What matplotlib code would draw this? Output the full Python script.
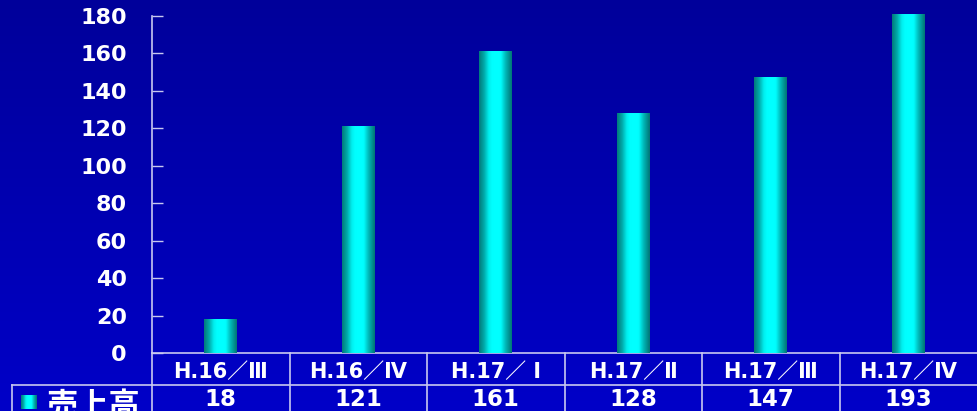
import numpy as np
import matplotlib
matplotlib.use("Agg")
import matplotlib.pyplot as plt
from matplotlib.colors import LinearSegmentedColormap, to_rgb
import matplotlib.transforms as mtransforms

categories = ["H.16／Ⅲ", "H.16／Ⅳ", "H.17／ Ⅰ", "H.17／Ⅱ", "H.17／Ⅲ", "H.17／Ⅳ"]
values = [18, 121, 161, 128, 147, 193]
series_name = "売上高"
yticks = [0, 20, 40, 60, 80, 100, 120, 140, 160, 180]

W, H = 977, 411
fig = plt.figure(figsize=(W / 100, H / 100), dpi=100)

# background gradient
bg = fig.add_axes([0, 0, 1, 1], zorder=-10)
top_c = np.array(to_rgb("#00009A"))
bot_c = np.array(to_rgb("#0000C8"))
t = np.linspace(0, 1, 256)[:, None]
grad = top_c[None, :] * (1 - t) + bot_c[None, :] * t
bg.imshow(grad[:, None, :].repeat(2, axis=1), aspect="auto", extent=[0, 1, 0, 1])
bg.axis("off")

ax_left = 152 / W
ax_bottom = (H - 353) / H
ax_top = (H - 14) / H
ax = fig.add_axes([ax_left, ax_bottom, 1 - ax_left, ax_top - ax_bottom])
ax.set_facecolor("none")

x = np.arange(len(categories))
bars = ax.bar(x, values, width=0.24, color="#00FFFF", linewidth=0, zorder=2)

cmap = LinearSegmentedColormap.from_list(
    "cyl",
    [(0.0, "#007A7A"), (0.15, "#00A8A8"), (0.30, "#00F0F0"), (0.40, "#00FFFF"),
     (0.66, "#00FFFF"), (0.82, "#00B4B4"), (1.0, "#007474")])
prof = np.linspace(0, 1, 128)[None, :]
for b in bars:
    x0, w, h = b.get_x(), b.get_width(), b.get_height()
    im = ax.imshow(prof, cmap=cmap, aspect="auto", extent=[x0, x0 + w, 0, h],
                   zorder=3, interpolation="bicubic")
    im.set_clip_path(b)
    im.set_clip_box(ax.bbox)

ax.set_xlim(-0.5, len(categories) - 0.5)
ax.set_ylim(0, 181)
line_c = "#C8C8F0"
for s in ["top", "right"]:
    ax.spines[s].set_visible(False)
ax.spines["left"].set_color(line_c)
ax.spines["bottom"].set_color(line_c)
ax.spines["left"].set_linewidth(1.2)
ax.spines["left"].set_bounds(0, 180)
ax.spines["bottom"].set_linewidth(1.2)
ax.set_yticks(yticks)
ax.set_yticklabels([str(v) for v in yticks])
ax.tick_params(axis="y", direction="in", length=8, width=1, color=line_c,
               pad=18, labelcolor="white", labelsize=16)
for lab in ax.get_yticklabels():
    lab.set_fontweight("bold")
    lab.set_family("DejaVu Sans")
ax.set_xticks([])

# table
trans = mtransforms.blended_transform_factory(ax.transData, ax.transAxes)
axh_px = 353 - 14
hdr = -32 / axh_px
bot = -70 / axh_px
label_left = (12 - 152) / 825
kw = dict(color=line_c, lw=1.2, clip_on=False, zorder=5)
for i in range(len(categories)):
    xb = i - 0.5
    ax.plot([xb, xb], [0, bot], transform=trans, **kw)
ax.plot([-0.5, len(categories) - 0.5], [hdr, hdr], transform=trans, **kw)
ax.plot([label_left, 0], [hdr, hdr], transform=ax.transAxes, **kw)
ax.plot([label_left, label_left], [hdr, bot], transform=ax.transAxes, **kw)

fam_lab = ["DejaVu Sans", "Noto Sans CJK JP"]
for i, (c, v) in enumerate(zip(categories, values)):
    ax.text(i, -19 / axh_px, c, transform=trans, ha="center", va="center",
            color="white", fontsize=15, fontweight="bold", family=fam_lab,
            clip_on=False)
    ax.text(i, -46 / axh_px, str(v), transform=trans, ha="center", va="center",
            color="white", fontsize=16.5, fontweight="bold", family="DejaVu Sans",
            clip_on=False)

# legend key + row label
lx0 = (21 - 152) / 825
lx1 = (37 - 152) / 825
ly0 = -(409 - 353) / axh_px
ly1 = -(395 - 353) / axh_px
key = ax.imshow(prof, cmap=cmap, aspect="auto", extent=[lx0, lx1, ly0, ly1],
                transform=ax.transAxes, zorder=6)
key.set_clip_on(False)
ax.text((46 - 152) / 825, -54 / axh_px, series_name, transform=ax.transAxes,
        ha="left", va="center", color="white", fontsize=22.5, fontweight="bold",
        family=["Noto Sans CJK JP", "DejaVu Sans"], clip_on=False)

fig.savefig("out.png", dpi=100)
